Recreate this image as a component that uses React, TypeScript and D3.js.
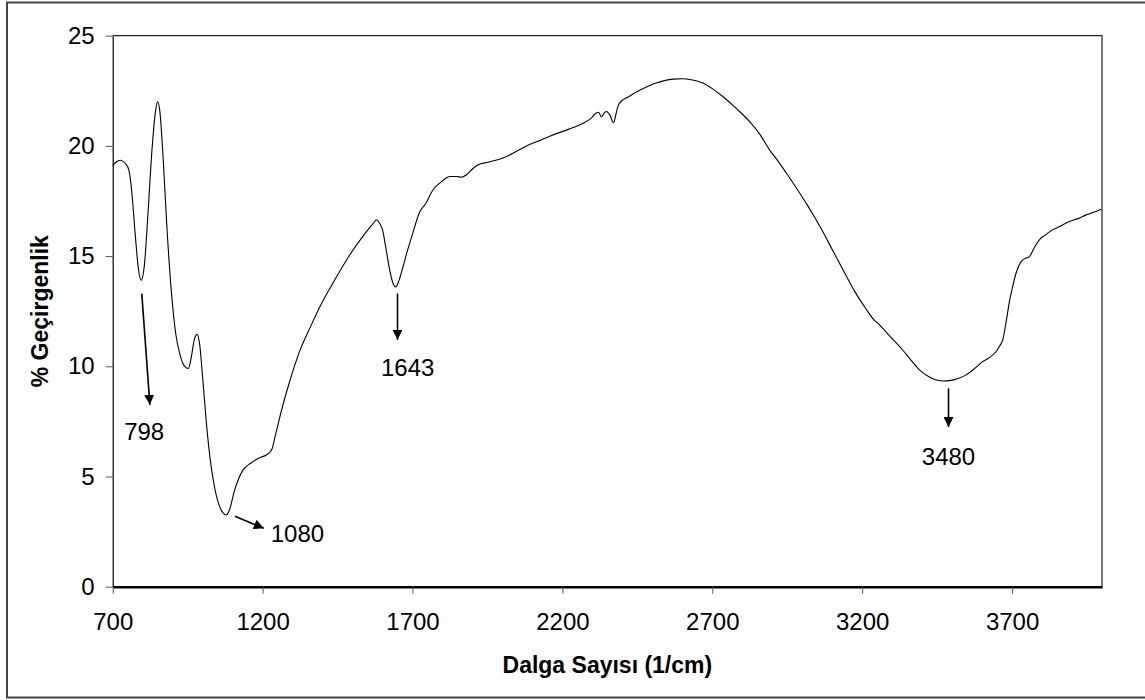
import React, { useRef, useEffect } from "react";
import * as d3 from "d3";

// wavenumber (1/cm) and % transmittance
const waveNumbers = [
  700, 715, 727, 742, 754, 763, 775, 785, 795, 805, 818, 832, 843, 850, 857, 868, 880, 895,
  910, 925, 940, 952, 962, 972, 982, 990, 1000, 1012, 1025, 1040, 1055, 1068, 1078, 1090,
  1105, 1120, 1135, 1160, 1190, 1215, 1230, 1245, 1263, 1290, 1324, 1360, 1391, 1440, 1491,
  1540, 1570, 1580, 1590, 1600, 1612, 1625, 1637, 1644, 1655, 1668, 1680, 1700, 1724, 1745,
  1768, 1790, 1808, 1824, 1847, 1863, 1880, 1900, 1919, 1952, 2002, 2040, 2080, 2125, 2169,
  2220, 2269, 2295, 2313, 2321, 2330, 2340, 2347, 2358, 2371, 2378, 2385, 2399, 2413, 2458,
  2513, 2569, 2600, 2630, 2669, 2700, 2735, 2780, 2824, 2860, 2891, 2920, 2947, 2980, 3013,
  3040, 3069, 3100, 3136, 3175, 3213, 3240, 3252, 3290, 3335, 3365, 3391, 3420, 3447, 3470,
  3491, 3520, 3547, 3575, 3602, 3625, 3647, 3660, 3669, 3680, 3692, 3702, 3715, 3730, 3745,
  3758, 3775, 3791, 3810, 3835, 3860, 3891, 3920, 3947, 3975, 3997,
];
const transmittance = [
  19.1, 19.3, 19.35, 19.2, 18.9, 18.0, 16.0, 14.5, 13.9, 14.5, 17.0, 20.0, 21.6, 22.0, 21.6,
  19.5, 16.5, 13.5, 11.5, 10.5, 10.0, 9.9, 10.4, 11.2, 11.45, 11.0, 9.5, 7.5, 5.8, 4.5, 3.7,
  3.35, 3.25, 3.5, 4.3, 4.9, 5.3, 5.6, 5.85, 6.0, 6.2, 7.0, 8.0, 9.3, 10.7, 11.8, 12.7, 13.9,
  15.06, 16.0, 16.5, 16.65, 16.5, 16.2, 15.3, 14.3, 13.7, 13.6, 13.9, 14.5, 15.1, 16.0, 17.0,
  17.4, 18.0, 18.3, 18.5, 18.61, 18.61, 18.58, 18.69, 18.95, 19.14, 19.26, 19.45, 19.7, 20.0,
  20.25, 20.5, 20.75, 21.03, 21.25, 21.49, 21.53, 21.31, 21.5, 21.56, 21.41, 21.05, 21.4,
  21.79, 22.06, 22.17, 22.52, 22.85, 23.03, 23.05, 23.0, 22.85, 22.6, 22.24, 21.7, 21.11,
  20.5, 19.82, 19.3, 18.77, 18.1, 17.4, 16.8, 16.1, 15.3, 14.38, 13.4, 12.6, 12.1, 11.96,
  11.4, 10.74, 10.25, 9.84, 9.55, 9.38, 9.33, 9.35, 9.45, 9.61, 9.9, 10.21, 10.4, 10.67,
  10.95, 11.2, 12.0, 13.0, 13.62, 14.3, 14.75, 14.9, 14.98, 15.4, 15.74, 15.95, 16.19, 16.35,
  16.57, 16.7, 16.87, 17.0, 17.13,
];

const xTicks = [700, 1200, 1700, 2200, 2700, 3200, 3700];
const yTicks = [0, 5, 10, 15, 20, 25];

// peak labels: arrow tail -> head, text position, all in data units
const peakLabels = ["798", "1080", "1643", "3480"];
const arrowFrom = [[797, 13.3], [1108, 3.2], [1650, 13.3], [3488, 9.0]];
const arrowTo = [[824, 8.25], [1204, 2.65], [1650, 11.2], [3488, 7.25]];
const labelAt = [[805, 6.66], [1227, 2.04], [1684, 9.56], [3488, 5.52]];
const labelAnchor = ["middle", "start", "middle", "middle"];

const FONT = "'Liberation Sans', Arial, sans-serif";

const App = () => {
  const svgRef = useRef();

  useEffect(() => {
    const svg = d3.select(svgRef.current);
    svg.selectAll("*").remove();

    const width = 1145;
    const height = 700;
    const margin = { top: 35.7, right: 43, bottom: 113.3, left: 112.7 };

    svg.attr("width", width).attr("height", height);

    // outer chart border
    svg.append("rect")
      .attr("x", 7).attr("y", 2.5)
      .attr("width", width + 20).attr("height", 695)
      .attr("fill", "#fff").attr("stroke", "#444").attr("stroke-width", 2);

    const x = d3.scaleLinear().domain([700, 4000]).range([margin.left, width - margin.right]);
    const y = d3.scaleLinear().domain([0, 25]).range([height - margin.bottom, margin.top]);

    // plot frame (top + right)
    svg.append("path")
      .attr("d", `M${x(700)},${y(25)}H${x(4000)}V${y(0)}`)
      .attr("fill", "none").attr("stroke", "#222").attr("stroke-width", 1.2);

    const xAxis = svg.append("g")
      .attr("transform", `translate(0,${y(0)})`)
      .call(d3.axisBottom(x).tickValues(xTicks).tickFormat(d3.format("d"))
        .tickSize(7).tickSizeOuter(0).tickPadding(19));
    xAxis.select(".domain").attr("stroke", "#000").attr("stroke-width", 2.5);
    xAxis.selectAll(".tick line").attr("stroke", "#555");
    xAxis.selectAll("text")
      .style("font-family", FONT).style("font-size", "24px").attr("fill", "#000");

    const yAxis = svg.append("g")
      .attr("transform", `translate(${x(700)},0)`)
      .call(d3.axisLeft(y).tickValues(yTicks).tickFormat(d3.format("d"))
        .tickSize(7).tickSizeOuter(0).tickPadding(11));
    yAxis.select(".domain").attr("stroke", "#000").attr("stroke-width", 1.2);
    yAxis.selectAll(".tick line").attr("stroke", "#555");
    yAxis.selectAll("text")
      .style("font-family", FONT).style("font-size", "24px").attr("fill", "#000");

    const data = waveNumbers.map((w, i) => [w, transmittance[i]]);
    const line = d3.line()
      .x(d => x(d[0]))
      .y(d => y(d[1]))
      .curve(d3.curveMonotoneX);

    svg.append("path")
      .datum(data)
      .attr("d", line)
      .attr("fill", "none")
      .attr("stroke", "#000")
      .attr("stroke-width", 1.1);

    const defs = svg.append("defs");
    defs.append("marker")
      .attr("id", "arrowhead")
      .attr("viewBox", "0 0 10 10")
      .attr("refX", 10).attr("refY", 5)
      .attr("markerWidth", 10).attr("markerHeight", 10)
      .attr("markerUnits", "userSpaceOnUse")
      .attr("orient", "auto")
      .append("path")
      .attr("d", "M0,0L10,5L0,10Z")
      .attr("fill", "#000");

    peakLabels.forEach((label, i) => {
      svg.append("line")
        .attr("x1", x(arrowFrom[i][0])).attr("y1", y(arrowFrom[i][1]))
        .attr("x2", x(arrowTo[i][0])).attr("y2", y(arrowTo[i][1]))
        .attr("stroke", "#000").attr("stroke-width", 1.6)
        .attr("marker-end", "url(#arrowhead)");
      svg.append("text")
        .attr("x", x(labelAt[i][0])).attr("y", y(labelAt[i][1]))
        .attr("text-anchor", labelAnchor[i])
        .style("font-family", FONT).style("font-size", "24px")
        .text(label);
    });

    svg.append("text")
      .attr("x", (x(700) + x(4000)) / 2)
      .attr("y", 673)
      .attr("text-anchor", "middle")
      .style("font-family", FONT).style("font-size", "23px").style("font-weight", "bold")
      .text("Dalga Sayısı (1/cm)");

    svg.append("text")
      .attr("transform", `translate(48,${(y(0) + y(25)) / 2}) rotate(-90)`)
      .attr("text-anchor", "middle")
      .style("font-family", FONT).style("font-size", "23px").style("font-weight", "bold")
      .text("% Geçirgenlik");
  }, []);

  return (
    <svg ref={svgRef} style={{ position: "fixed", left: 0, top: 0, display: "block" }}></svg>
  );
};

export default App;
